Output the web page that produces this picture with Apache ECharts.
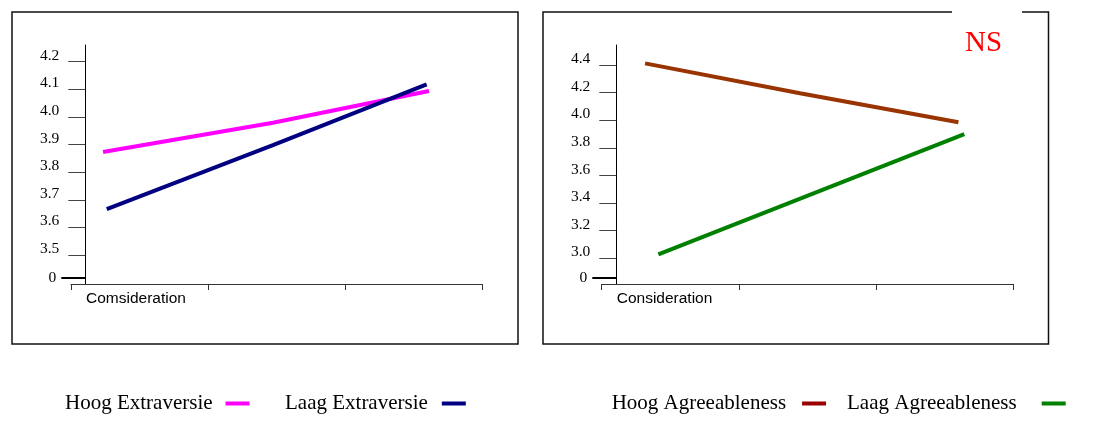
<!DOCTYPE html>
<html><head><meta charset="utf-8">
<script src="https://cdn.jsdelivr.net/npm/echarts@6/dist/echarts.min.js"></script>
<style>html,body{margin:0;padding:0;background:#fff}#c{width:1103px;height:447px}</style>
</head><body><div id="c"></div>
<script>
// ---- data ----
const xAxisLabels = ['Comsideration', 'Consideration'];
const leftTickValues = [3.5, 3.6, 3.7, 3.8, 3.9, 4.0, 4.1, 4.2];
const leftZeroTick = 3.418;
const rightTickValues = [3.0, 3.2, 3.4, 3.6, 3.8, 4.0, 4.2, 4.4];
const rightZeroTick = 2.86;
const seriesNames = ['Hoog Extraversie', 'Laag Extraversie', 'Hoog Agreeableness', 'Laag Agreeableness'];
const hoogExtraX = [0.234, 1.474, 2.613];
const hoogExtraY = [3.873, 3.979, 4.094];
const laagExtraX = [0.261, 1.474, 2.596];
const laagExtraY = [3.666, 3.898, 4.118];
const hoogAgreeX = [0.316, 1.445, 2.600];
const hoogAgreeY = [4.412, 4.195, 3.985];
const laagAgreeX = [0.413, 2.643];
const laagAgreeY = [3.028, 3.900];
const annotation = 'NS';

// ---- build ----
const zip = (xs, ys) => xs.map((x, i) => [x, ys[i]]);
const serif = 'Liberation Serif';
const sans = 'Liberation Sans';

function yAxes(gridIndex, min, max, ticks, zero, offset) {
  return [{
    type: 'value', gridIndex, min, max, offset, position: 'left',
    splitLine: { show: false },
    axisLine: { show: true, onZero: false, lineStyle: { color: '#000', width: 1 } },
    axisTick: { show: true, length: 17, customValues: ticks, lineStyle: { color: '#444', width: 1 } },
    axisLabel: {
      show: true, margin: 26, customValues: ticks.concat([zero]),
      fontFamily: serif, fontSize: 15.5, color: '#000',
      formatter: v => Math.abs(v - zero) < 1e-6 ? '{z|0}' : '{a|' + v.toFixed(1) + '}',
      rich: {
        a: { fontFamily: serif, fontSize: 15.5, color: '#000', padding: [0, 0, 12, 0] },
        z: { fontFamily: serif, fontSize: 15.5, color: '#000', padding: [0, 3, 0, 0] }
      }
    }
  }, {
    type: 'value', gridIndex, min, max, offset, position: 'left',
    splitLine: { show: false },
    axisLine: { show: false, onZero: false },
    axisTick: { show: true, length: 24, customValues: [zero], lineStyle: { color: '#000', width: 2 } },
    axisLabel: { show: false }
  }];
}

function xAxis(gridIndex, label) {
  return {
    type: 'value', gridIndex, min: 0, max: 3, interval: 1,
    splitLine: { show: false },
    axisLine: { show: true, onZero: false, lineStyle: { color: '#333', width: 1 } },
    axisTick: { show: true, length: 6, lineStyle: { color: '#333', width: 1 } },
    axisLabel: {
      show: true, margin: 7, align: 'left', padding: [0, 0, 0, 15],
      fontFamily: sans, fontSize: 15.5, color: '#000',
      formatter: v => v === 0 ? label : ''
    }
  };
}

function lineSeries(name, data, xi, yi, lineColor, swatchColor) {
  return {
    type: 'line', name, data, xAxisIndex: xi, yAxisIndex: yi,
    showSymbol: false, symbol: 'none', smooth: false, animation: false,
    lineStyle: { color: lineColor, width: 4 },
    itemStyle: { color: swatchColor }
  };
}

function legendOne(name, left, padRight) {
  return {
    data: [name], left, top: 393, padding: 0, orient: 'horizontal', align: 'right',
    icon: 'rect', itemWidth: 24, itemHeight: 4, selectedMode: false,
    textStyle: { fontFamily: serif, fontSize: 21, color: '#000', padding: [0, padRight, 0, 0] }
  };
}

const chart = echarts.init(document.getElementById('c'), null, { renderer: 'canvas' });
chart.setOption({
  backgroundColor: '#fff',
  animation: false,
  grid: [
    { left: 71, top: 45, width: 411, height: 239 },
    { left: 601.7, top: 45, width: 411.6, height: 239 }
  ],
  xAxis: [xAxis(0, xAxisLabels[0]), xAxis(1, xAxisLabels[1])],
  yAxis: yAxes(0, 3.395, 4.2605, leftTickValues, leftZeroTick, -14.3)
    .concat(yAxes(1, 2.814, 4.545, rightTickValues, rightZeroTick, -14.6)),
  series: [
    lineSeries(seriesNames[0], zip(hoogExtraX, hoogExtraY), 0, 0, '#ff00ff', '#ff00ff'),
    lineSeries(seriesNames[1], zip(laagExtraX, laagExtraY), 0, 0, '#000080', '#000080'),
    lineSeries(seriesNames[2], zip(hoogAgreeX, hoogAgreeY), 1, 2, '#993300', '#990000'),
    lineSeries(seriesNames[3], zip(laagAgreeX, laagAgreeY), 1, 2, '#008000', '#008000')
  ],
  legend: [
    legendOne(seriesNames[0], 65, 8),
    legendOne(seriesNames[1], 285, 9),
    legendOne(seriesNames[2], 611.7, 11),
    legendOne(seriesNames[3], 847, 20)
  ],
  graphic: [
    { type: 'rect', shape: { x: 12, y: 12, width: 506, height: 332 }, style: { fill: 'none', stroke: '#111', lineWidth: 1.5 }, z: 100 },
    { type: 'rect', shape: { x: 543, y: 12, width: 505.5, height: 332 }, style: { fill: 'none', stroke: '#111', lineWidth: 1.5 }, z: 100 },
    { type: 'line', shape: { x1: 952, y1: 12, x2: 1022, y2: 12 }, style: { stroke: '#fff', lineWidth: 3 }, z: 101 },
    { type: 'text', left: 965, top: 29, style: { text: annotation, fill: '#ff0000', font: '29px "Liberation Serif"' }, z: 102 }
  ]
});
</script></body></html>
